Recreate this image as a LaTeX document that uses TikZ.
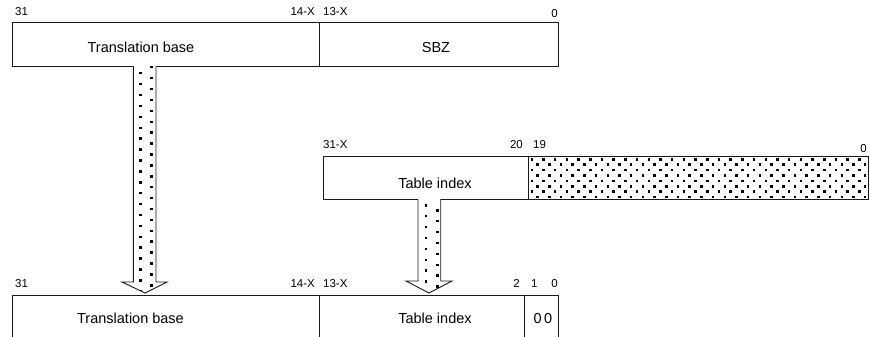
\documentclass[tikz,border=0pt]{standalone}
\usepackage{fontspec}
\setmainfont{Liberation Sans}
\begin{document}
\begin{tikzpicture}[x=1pt,y=-1pt,
  boxline/.style={draw=black!90,line width=0.9pt},
  big/.style={font=\fontsize{14.5}{15}\selectfont,inner sep=0pt,anchor=base},
  bitw/.style={font=\fontsize{11.5}{12}\selectfont,inner sep=0pt,anchor=base west},
  bite/.style={font=\fontsize{11.5}{12}\selectfont,inner sep=0pt,anchor=base east},
  dotsq/.style={fill=black}
]
\useasboundingbox (0,0) rectangle (870,337);

% ---------- top register ----------
\coordinate (t1) at (12,22);
\coordinate (t2) at (558,66);
\draw[boxline] (t1) rectangle (t2);
\draw[boxline] (319,22) -- (319,66);
\node[big] (ttb) at (141,53) {Translation base};
\node[big] (tsbz) at (436,53) {SBZ};
\node[bitw] (t31) at (15,16) {31};
\node[bite] (t14) at (315,16) {14-X};
\node[bitw] (t13) at (323,16) {13-X};
\node[bite] (t0) at (558,17.5) {0};

% ---------- middle register ----------
\draw[boxline,fill=white] (323,156) rectangle (868,199);
\begin{scope}
  \clip (528,156) rectangle (868,199);
  \foreach \k in {0,...,7} {
    \pgfmathsetmacro\off{mod(\k,2)*5.85}
    \foreach \j in {0,...,29} {
      \fill[dotsq] ({530.5+\off+11.7*\j},{158+5.4*\k}) rectangle ++(2.5,2.5);
    }
  }
\end{scope}
\draw[boxline] (323,156) rectangle (868,199);
\draw[boxline] (528,156) -- (528,199);
\node[big] (mti) at (435,188) {Table index};
\node[bitw] (m31) at (323,148) {31-X};
\node[bite] (m20) at (523,148) {20};
\node[bitw] (m19) at (533,148) {19};
\node[bite] (m0) at (867,152.5) {0};

% ---------- bottom register ----------
\draw[boxline] (12,345) -- (12,295) -- (558,295) -- (558,345);
\draw[boxline] (319,295) -- (319,345);
\draw[boxline] (524,295) -- (524,345);
\node[big] (btb) at (130.5,323.5) {Translation base};
\node[big] (bti) at (435,323.5) {Table index};
\node[big] (b00) at (543,323.5) {0\,0};
\node[bitw] (b31) at (15,287) {31};
\node[bite] (b14) at (315,287) {14-X};
\node[bitw] (b13) at (323,287) {13-X};
\node[bite] (b2) at (520,287) {2};
\node[bitw] (b1) at (531,287) {1};
\node[bite] (b0) at (558,287) {0};

% ---------- arrow 1 ----------
\fill[white] (133.3,66) -- (133.3,282) -- (122,282) -- (145,293) -- (167,282) -- (156,282) -- (156,66) -- cycle;
\begin{scope}
  \clip (133.3,66) -- (133.3,282) -- (122,282) -- (145,293) -- (167,282) -- (156,282) -- (156,66) -- cycle;
  \foreach \k in {0,...,21} {
    \fill[dotsq] ({139},{72+10.9*\k}) rectangle ++(2.5,2.5);
    \fill[dotsq] ({150},{66+10.9*\k}) rectangle ++(2.5,2.5);
  }
\end{scope}
\draw[boxline,line join=miter] (133.3,66.4) -- (133.3,282) -- (122,282) -- (145,293) -- (167,282) -- (156,282) -- (156,66.4);

% ---------- arrow 2 ----------
\fill[white] (418,199) -- (418,281) -- (406,281) -- (429,293) -- (452,281) -- (440.7,281) -- (440.7,199) -- cycle;
\begin{scope}
  \clip (418,199) -- (418,281) -- (406,281) -- (429,293) -- (452,281) -- (440.7,281) -- (440.7,199) -- cycle;
  \foreach \k in {0,...,9} {
    \fill[dotsq] ({424.5},{204+10.9*\k}) rectangle ++(2.5,2.5);
    \fill[dotsq] ({436.2},{209+10.9*\k}) rectangle ++(2.5,2.5);
  }
\end{scope}
\draw[boxline,line join=miter] (418,199.4) -- (418,281) -- (406,281) -- (429,293) -- (452,281) -- (440.7,281) -- (440.7,199.4);
\end{tikzpicture}
\end{document}
